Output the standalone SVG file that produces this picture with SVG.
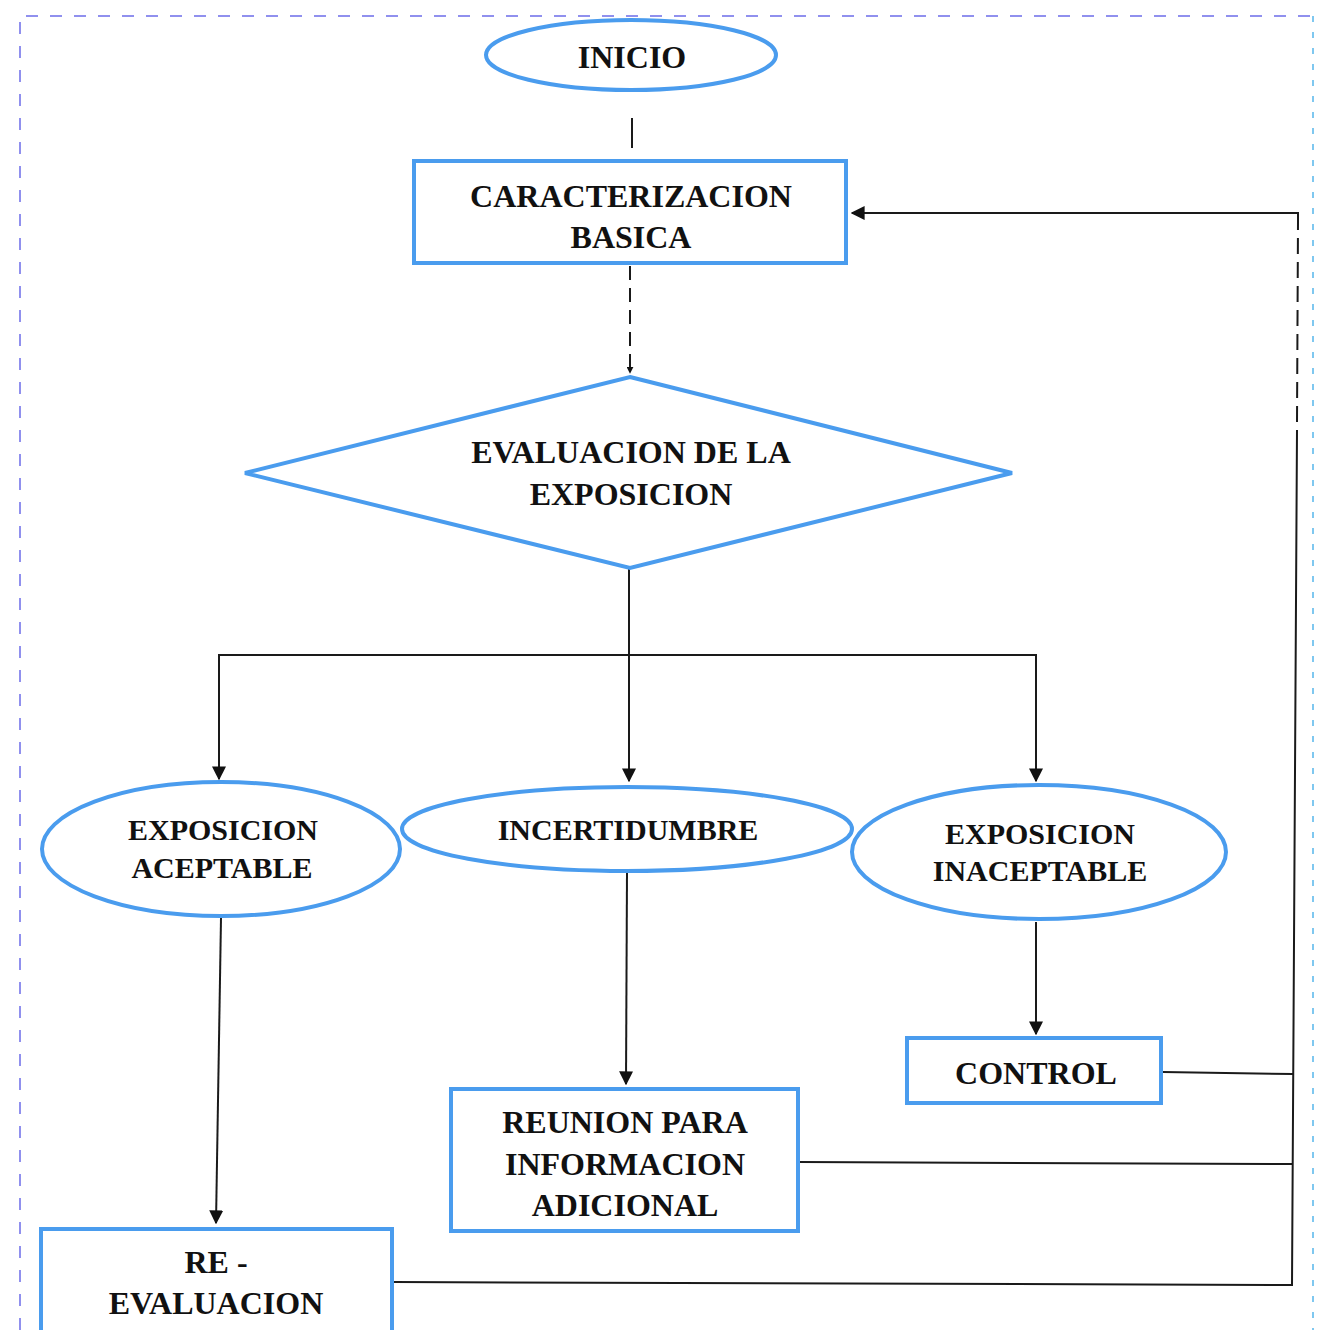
<svg xmlns="http://www.w3.org/2000/svg" width="1321" height="1330" viewBox="0 0 1321 1330">
  <style>
    .shape { fill: #ffffff; stroke: #4a9cee; stroke-width: 4; }
    .lbl { font-family: "Liberation Serif", "Times New Roman", serif; font-weight: bold; font-size: 32px; fill: #111111; text-anchor: middle; }
    .lbl-s { font-size: 30px; }
    .wire { fill: none; stroke: #1a1a1a; stroke-width: 2; }
    .frame { fill: none; stroke: #9090ee; stroke-width: 2; stroke-dasharray: 12 12; }
  </style>
  <defs>
    <marker id="arrow" viewBox="0 0 10 10" refX="9" refY="5" markerWidth="7" markerHeight="7" markerUnits="userSpaceOnUse" orient="auto">
      <path d="M0,0 L10,5 L0,10 Z" fill="#111111"/>
    </marker>
    <marker id="arrow-lg" viewBox="0 0 10 10" refX="9" refY="5" markerWidth="14" markerHeight="14" markerUnits="userSpaceOnUse" orient="auto">
      <path d="M0,0 L10,5 L0,10 Z" fill="#111111"/>
    </marker>
  </defs>

  <rect width="1321" height="1330" fill="#ffffff"/>

  <!-- dashed outer frame -->
  <g id="frame">
    <path class="frame" d="M20,1330 L20,16 L1313,16"/>
    <path d="M1313,16 L1313,1330" fill="none" stroke="#7fc8f0" stroke-width="2" stroke-dasharray="6 10"/>
  </g>

  <!-- connectors -->
  <g id="connectors">
    <line class="wire" x1="632" y1="118" x2="632" y2="148"/>
    <line class="wire" x1="630" y1="266" x2="630" y2="373" stroke-dasharray="14 8" marker-end="url(#arrow)"/>
    <line class="wire" x1="629" y1="569" x2="629" y2="781" marker-end="url(#arrow-lg)"/>
    <polyline class="wire" points="219,655 1036,655"/>
    <line class="wire" x1="219" y1="654" x2="219" y2="779" marker-end="url(#arrow-lg)"/>
    <line class="wire" x1="1036" y1="654" x2="1036" y2="781" marker-end="url(#arrow-lg)"/>
    <line class="wire" x1="221" y1="918" x2="216" y2="1223" marker-end="url(#arrow-lg)"/>
    <line class="wire" x1="627" y1="872" x2="626" y2="1084" marker-end="url(#arrow-lg)"/>
    <line class="wire" x1="1036" y1="922" x2="1036" y2="1034" marker-end="url(#arrow-lg)"/>
    <!-- feedback loop back to the characterization step -->
    <line class="wire" x1="1163" y1="1072" x2="1293" y2="1074"/>
    <line class="wire" x1="800" y1="1162" x2="1292" y2="1164"/>
    <polyline class="wire" points="394,1282 1292,1285 1297,430"/>
    <line class="wire" x1="1297" y1="422" x2="1298" y2="222" stroke-width="3" stroke-dasharray="16 8"/>
    <polyline class="wire" points="1298,222 1298,213 852,213" marker-end="url(#arrow-lg)"/>
  </g>

  <g id="inicio">
    <ellipse class="shape" cx="631" cy="55" rx="145" ry="35"/>
    <text class="lbl" x="632" y="68">INICIO</text>
  </g>

  <g id="caracterizacion">
    <rect class="shape" x="414" y="161" width="432" height="102"/>
    <text class="lbl" x="631" y="207">CARACTERIZACION</text>
    <text class="lbl" x="631" y="248">BASICA</text>
  </g>

  <g id="evaluacion">
    <polygon class="shape" points="630,377 1012,473 630,568 245,473"/>
    <text class="lbl" x="631" y="463">EVALUACION DE LA</text>
    <text class="lbl" x="631" y="505">EXPOSICION</text>
  </g>

  <g id="aceptable">
    <ellipse class="shape" cx="221" cy="849" rx="179" ry="67"/>
    <text class="lbl lbl-s" x="223" y="840">EXPOSICION</text>
    <text class="lbl lbl-s" x="222" y="878">ACEPTABLE</text>
  </g>

  <g id="incertidumbre">
    <ellipse class="shape" cx="627" cy="829" rx="225" ry="42"/>
    <text class="lbl lbl-s" x="628" y="840">INCERTIDUMBRE</text>
  </g>

  <g id="inaceptable">
    <ellipse class="shape" cx="1039" cy="852" rx="187" ry="67"/>
    <text class="lbl lbl-s" x="1040" y="844">EXPOSICION</text>
    <text class="lbl lbl-s" x="1040" y="881">INACEPTABLE</text>
  </g>

  <g id="control">
    <rect class="shape" x="907" y="1038" width="254" height="65"/>
    <text class="lbl" x="1036" y="1084">CONTROL</text>
  </g>

  <g id="reunion">
    <rect class="shape" x="451" y="1089" width="347" height="142"/>
    <text class="lbl" x="625" y="1133">REUNION PARA</text>
    <text class="lbl" x="625" y="1175">INFORMACION</text>
    <text class="lbl" x="625" y="1216">ADICIONAL</text>
  </g>

  <g id="reevaluacion">
    <rect class="shape" x="41" y="1229" width="351" height="130"/>
    <text class="lbl" x="216" y="1273">RE -</text>
    <text class="lbl" x="216" y="1314">EVALUACION</text>
  </g>
</svg>
